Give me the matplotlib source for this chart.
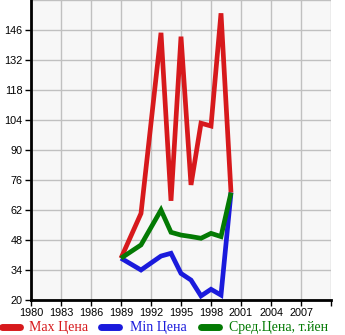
import matplotlib
matplotlib.use("Agg")
import matplotlib.pyplot as plt
from matplotlib.lines import Line2D

years = [1989, 1991, 1993, 1994, 1995, 1996, 1997, 1998, 1999, 2000]
max_price = [39.5, 60.4, 144.7, 66.3, 142.9, 73.7, 102.5, 101.2, 153.8, 70.1]
min_price = [39.5, 34.0, 40.5, 41.8, 32.4, 29.3, 21.9, 25.0, 22.3, 70.1]
avg_price = [39.5, 45.7, 62.0, 51.6, 50.3, 49.6, 48.8, 51.1, 49.6, 70.1]

x_ticks = list(range(1980, 2011, 3))
x_labels = [str(v) for v in range(1980, 2008, 3)] + [""]
y_ticks = [20, 34, 48, 62, 76, 90, 104, 118, 132, 146]
y_labels = [str(v) for v in y_ticks]

labels = ["Max Цена", "Min Цена", "Сред.Цена, т.йен"]
colors = ["#d7191c", "#1a1adc", "#037a03"]

W, H = 345, 335
fig = plt.figure(figsize=(W / 100, H / 100), dpi=100)
ax = fig.add_axes([31 / W, 35 / H, 300 / W, 300 / H])
ax.set_facecolor("#f7f7f7")

series = [max_price, min_price, avg_price]
for vals, c, z in zip(series, colors, [2, 3, 4]):
    ax.plot(years, vals, color=c, lw=3.4, solid_joinstyle="miter",
            solid_capstyle="butt", zorder=z)

ax.set_xlim(1980, 2010)
ax.set_ylim(20, 160)
ax.set_xticks(x_ticks)
ax.set_xticklabels(x_labels)
ax.set_yticks(y_ticks + [160])
ax.set_yticklabels(y_labels + [""])
ax.grid(True, color="#c0c0c0", lw=1)
ax.set_axisbelow(True)
for s in ["top", "right"]:
    ax.spines[s].set_visible(False)
for s in ["left", "bottom"]:
    ax.spines[s].set_linewidth(2)
    ax.spines[s].set_color("black")
ax.tick_params(direction="out", length=4, width=1, color="black", pad=2)
ax.yaxis.get_major_ticks()[-1].tick1line.set_visible(False)
for t in ax.get_xticklabels() + ax.get_yticklabels():
    t.set_fontfamily("Liberation Sans")
    t.set_fontsize(7.8)

# legend row below the axes, laid out in pixel positions
leg_y = (H - 327) / H
swatch_x = [(2, 20), (101, 119), (201, 219)]
text_x = [29, 130, 229]
for (x0, x1), tx, lab, c in zip(swatch_x, text_x, labels, colors):
    fig.add_artist(Line2D([x0 / W, x1 / W], [leg_y, leg_y], color=c, lw=5,
                          solid_capstyle="round", transform=fig.transFigure))
    fig.text(tx / W, leg_y - 1 / H, lab, color=c, family="Liberation Serif",
             fontsize=10, va="center", ha="left")

fig.savefig("out.png", dpi=100)
